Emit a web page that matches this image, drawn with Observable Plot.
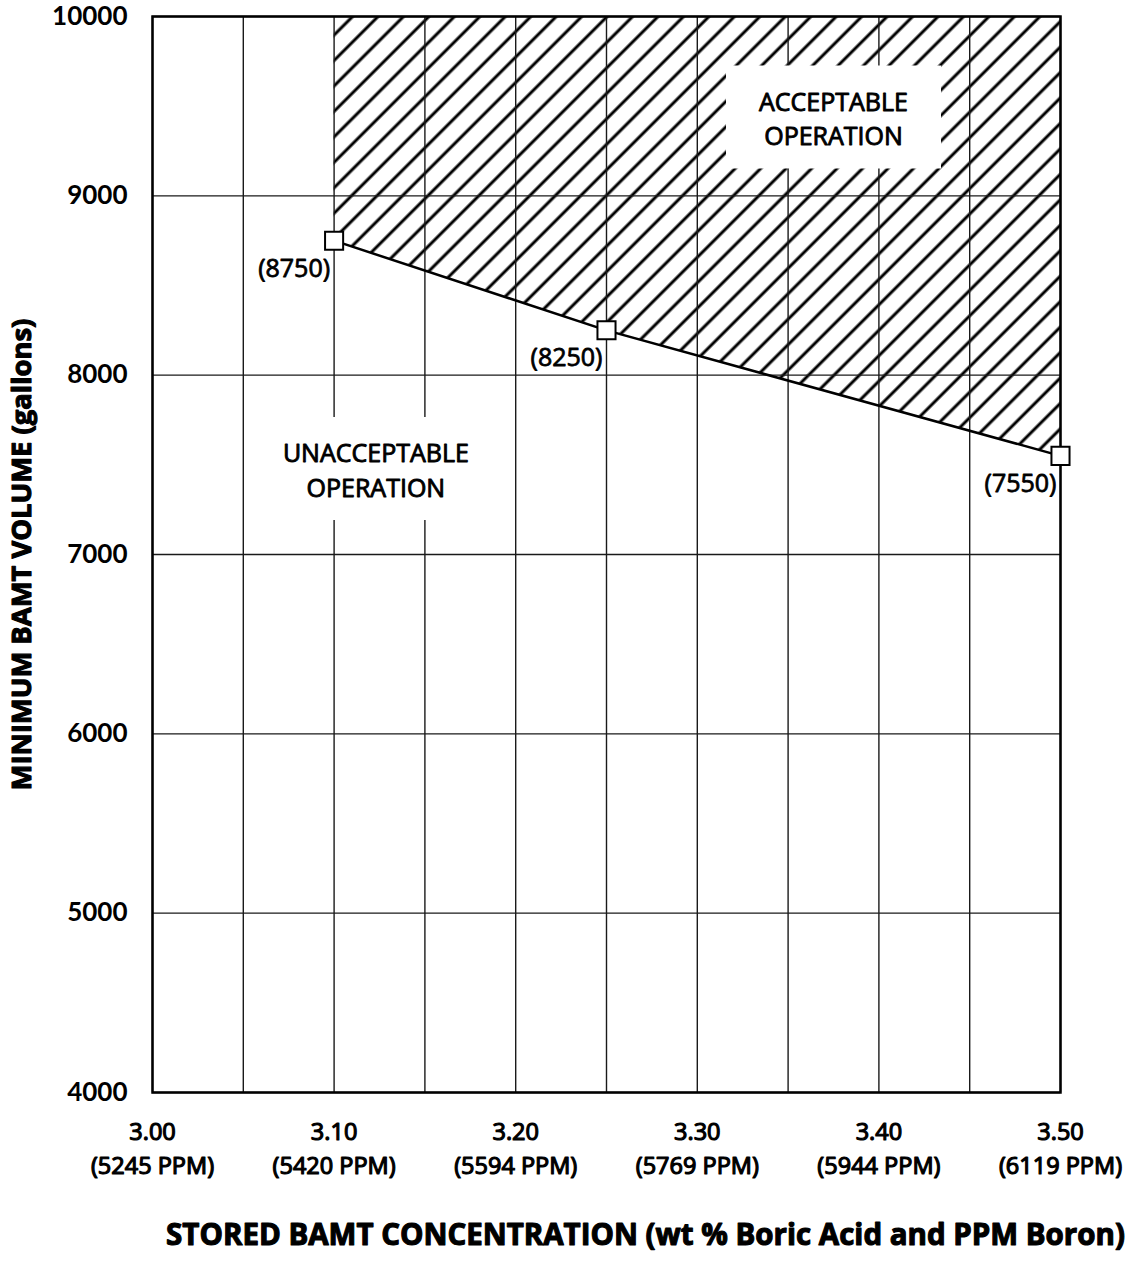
<!DOCTYPE html>
<html>
<head>
<meta charset="utf-8">
<script src="https://cdn.jsdelivr.net/npm/d3@7"></script>
<script src="https://cdn.jsdelivr.net/npm/@observablehq/plot@0.6"></script>
<style>
  html, body { margin: 0; padding: 0; background: #fff; }
</style>
</head>
<body>
<div id="chart"></div>
<script>
// ---- data ----
const gridConc = [3.00, 3.05, 3.10, 3.15, 3.20, 3.25, 3.30, 3.35, 3.40, 3.45, 3.50];
const tickConc = [3.00, 3.10, 3.20, 3.30, 3.40, 3.50];
const tickPPM = [5245, 5420, 5594, 5769, 5944, 6119];
const volumeTicks = [4000, 5000, 6000, 7000, 8000, 9000, 10000];
const limitConc = [3.10, 3.25, 3.50];
const limitVolume = [8750, 8250, 7550];
const regionText = ["ACCEPTABLE\nOPERATION", "UNACCEPTABLE\nOPERATION"];
const regionConc = [3.375, 3.123];
const regionVolume = [9440, 7480];
const xTitle = "STORED BAMT CONCENTRATION (wt % Boric Acid and PPM Boron)";
const yTitle = "MINIMUM BAMT VOLUME (gallons)";

// ---- tables built from the arrays ----
const limitPts = limitConc.map((c, i) => ({c, v: limitVolume[i]}));
const regions = regionText.map((t, i) => ({t, c: regionConc[i], v: regionVolume[i]}));
const xTicks = tickConc.map((c, i) => ({c, label: `${c.toFixed(2)}\n(${tickPPM[i]} PPM)`}));
const topVolume = d3.max(volumeTicks);

const boxSymbol = (w, h) => ({
  draw(ctx) {
    ctx.moveTo(-w / 2, -h / 2);
    ctx.lineTo(w / 2, -h / 2);
    ctx.lineTo(w / 2, h / 2);
    ctx.lineTo(-w / 2, h / 2);
    ctx.closePath();
  }
});

const OS = "'Open Sans', Lato, sans-serif";

const chart = Plot.plot({
  width: 1143,
  height: 1266,
  marginLeft: 152,
  marginRight: 83,
  marginTop: 16,
  marginBottom: 174,
  style: {fontFamily: OS, background: "#fff", color: "#000"},
  x: {domain: [3.0, 3.5], axis: null},
  y: {domain: [4000, 10000], axis: null},
  marks: [
    Plot.areaY(limitPts, {x: "c", y1: "v", y2: () => topVolume, fill: "url(#hatch)", curve: "linear"}),
    Plot.ruleX(gridConc, {stroke: "#1a1a1a", strokeWidth: 1.4}),
    Plot.ruleY(volumeTicks, {stroke: "#1a1a1a", strokeWidth: 1.4}),
    Plot.dot(regions, {x: "c", y: "v", symbol: boxSymbol(215, 103), r: 5, fill: "#fff", stroke: "none"}),
    Plot.frame({stroke: "#000", strokeWidth: 2.5}),
    Plot.line(limitPts, {x: "c", y: "v", stroke: "#000", strokeWidth: 2.5}),
    Plot.dot(limitPts, {x: "c", y: "v", symbol: "square", r: 10.2, fill: "#fff", stroke: "#000", strokeWidth: 2}),
    Plot.text(limitPts, {x: "c", y: "v", text: d => `(${d.v})`, textAnchor: "end", dx: -4, dy: 28, fontSize: 25, fill: "#000", stroke: "#000", strokeWidth: 0.8}),
    Plot.text(regions, {x: "c", y: "v", text: "t", fontSize: 25, lineHeight: 1.38, fill: "#000", stroke: "#000", strokeWidth: 0.9}),
    Plot.text(volumeTicks, {y: d => d, text: d => String(d), frameAnchor: "left", textAnchor: "end", dx: -25, fontSize: 26, fontWeight: 700, fontFamily: "Lato, sans-serif", fill: "#000"}),
    Plot.text(xTicks, {x: "c", text: "label", frameAnchor: "bottom", lineAnchor: "top", dy: 23, lineHeight: 1.45, fontSize: 23.5, fill: "#000", stroke: "#000", strokeWidth: 1.2}),
    Plot.text([xTitle], {frameAnchor: "bottom", textAnchor: "middle", dy: 152, dx: 39, fontSize: 29.5, fontWeight: 700, fill: "#000", stroke: "#000", strokeWidth: 1.1}),
    Plot.text([yTitle], {frameAnchor: "left", textAnchor: "middle", rotate: -90, dx: -130, fontSize: 27.4, fontWeight: 700, fill: "#000", stroke: "#000", strokeWidth: 1.1})
  ]
});

const ns = "http://www.w3.org/2000/svg";
const defs = document.createElementNS(ns, "defs");
defs.innerHTML = `<pattern id="hatch" patternUnits="userSpaceOnUse" width="18" height="18" patternTransform="rotate(45)"><rect width="18" height="18" fill="#fff"/><line x1="9" y1="-1" x2="9" y2="19" stroke="#000" stroke-width="3"/></pattern>`;
chart.prepend(defs);
document.getElementById("chart").append(chart);
</script>
</body>
</html>
